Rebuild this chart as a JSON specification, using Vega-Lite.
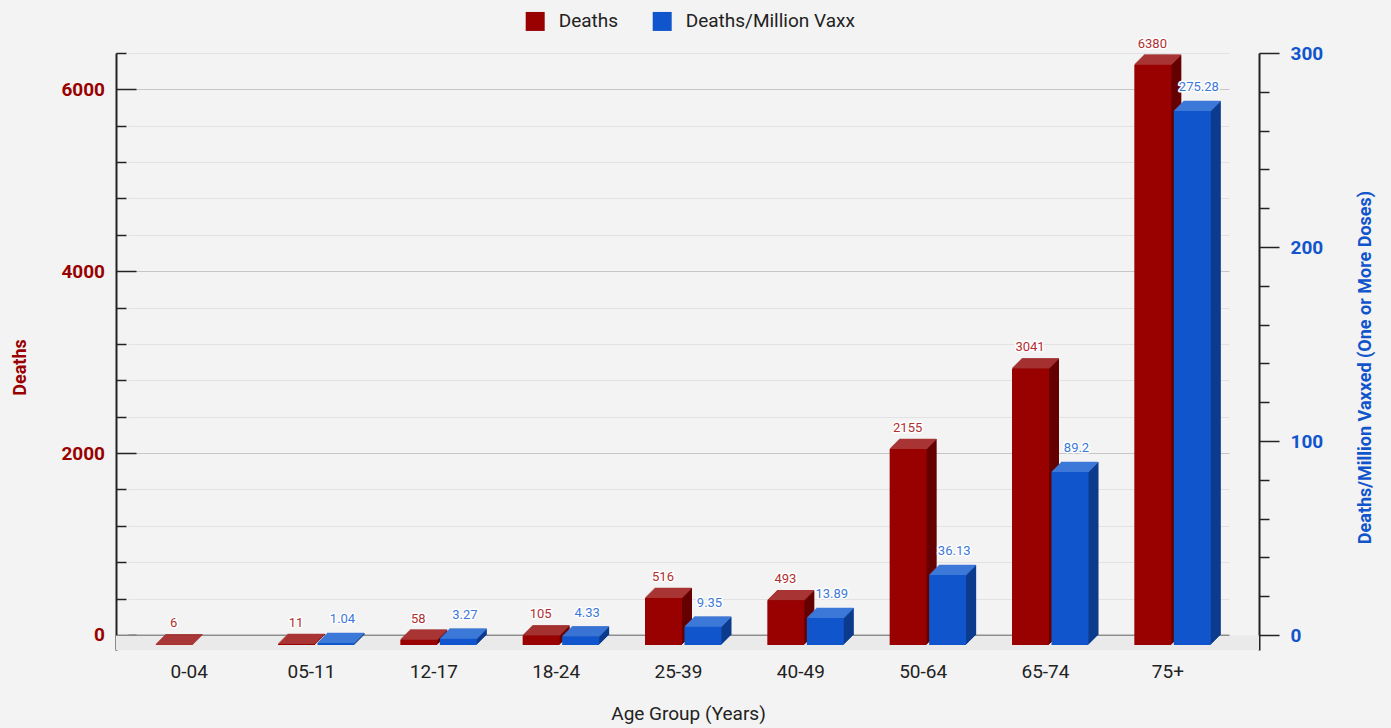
{
"$schema":"https://vega.github.io/schema/vega-lite/v6.json",
"width":1143,"height":597,
"autosize":{"type":"none"},
"padding":{"left":116,"top":53,"right":132,"bottom":78},
"background":"#f3f3f3",
"config":{"view":{"stroke":null},"font":"Roboto"},
"data":{"values":[
{"age":"0-04","deaths":6,"rate":null},
{"age":"05-11","deaths":11,"rate":1.04},
{"age":"12-17","deaths":58,"rate":3.27},
{"age":"18-24","deaths":105,"rate":4.33},
{"age":"25-39","deaths":516,"rate":9.35},
{"age":"40-49","deaths":493,"rate":13.89},
{"age":"50-64","deaths":2155,"rate":36.13},
{"age":"65-74","deaths":3041,"rate":89.2},
{"age":"75+","deaths":6380,"rate":275.28}
]},
"resolve":{"scale":{"y":"independent"}},
"layer":[
{"data":{"values":[{}]},"mark":{"type":"rect","fill":"#eaeaea"},"encoding":{"y":{"datum":-6,"type":"quantitative","scale":{"domain":[-165,6400],"nice":false,"zero":false},"axis":null},"y2":{"datum":-165}}},
{
"encoding":{
"x":{"field":"age","type":"nominal","sort":null,"scale":{"range":[12,1113],"paddingInner":0,"paddingOuter":0},"axis":{"title":"Age Group (Years)","labelAngle":0,"ticks":false,"domain":false,"grid":false,"labelFontSize":19,"labelColor":"#222222","labelPadding":27,"labelBaseline":"alphabetic","titleFontSize":19,"titleFontWeight":"normal","titleColor":"#222222","titleX":572,"titleY":69.5,"titleAlign":"center","titleBaseline":"alphabetic"}},
"y":{"field":"deaths","type":"quantitative","scale":{"domain":[-165,6400],"nice":false,"zero":false},"axis":{"title":"Deaths","values":[0,400,800,1200,1600,2000,2400,2800,3200,3600,4000,4400,4800,5200,5600,6000,6400],"labelExpr":"datum.value % 2000 === 0 ? '' + datum.value : ''","labelOverlap":false,"labelFontSize":19,"labelFontWeight":"bold","labelColor":"#990000","labelPadding":31.5,"labelBaseline":"middle","tickSize":{"condition":{"test":"datum.value % 2000 === 0","value":-20},"value":-10},"tickColor":"#222222","tickWidth":1.5,"domainColor":"#222222","domainWidth":2,"grid":true,"gridColor":{"condition":[{"test":"datum.value === 0","value":"#333333"},{"test":"datum.value % 2000 === 0","value":"#c6c6c6"}],"value":"#e2e2e2"},"gridWidth":{"condition":{"test":"datum.value === 0","value":1.5},"value":1},"titleFontSize":18,"titleFontWeight":"bold","titleColor":"#990000","titleAngle":-90,"titleX":-91,"titleY":314,"titleAlign":"center","titleBaseline":"alphabetic"}}
},
"layer":[
{"mark":{"type":"bar","width":37,"fill":"#650000","xOffset":-14,"yOffset":9,"y2Offset":9},"encoding":{"y2":{"datum":0}}},
{"mark":{"type":"bar","width":37,"fill":"#650000","xOffset":-13,"yOffset":8,"y2Offset":8},"encoding":{"y2":{"datum":0}}},
{"mark":{"type":"bar","width":37,"fill":"#650000","xOffset":-12,"yOffset":7,"y2Offset":7},"encoding":{"y2":{"datum":0}}},
{"mark":{"type":"bar","width":37,"fill":"#650000","xOffset":-11,"yOffset":6,"y2Offset":6},"encoding":{"y2":{"datum":0}}},
{"mark":{"type":"bar","width":37,"fill":"#650000","xOffset":-10,"yOffset":5,"y2Offset":5},"encoding":{"y2":{"datum":0}}},
{"mark":{"type":"bar","width":37,"fill":"#650000","xOffset":-9,"yOffset":4,"y2Offset":4},"encoding":{"y2":{"datum":0}}},
{"mark":{"type":"bar","width":37,"fill":"#650000","xOffset":-8,"yOffset":3,"y2Offset":3},"encoding":{"y2":{"datum":0}}},
{"mark":{"type":"bar","width":37,"fill":"#650000","xOffset":-7,"yOffset":2,"y2Offset":2},"encoding":{"y2":{"datum":0}}},
{"mark":{"type":"bar","width":37,"fill":"#650000","xOffset":-6,"yOffset":1,"y2Offset":1},"encoding":{"y2":{"datum":0}}},
{"mark":{"type":"bar","width":37,"fill":"#650000","xOffset":-5,"yOffset":0,"y2Offset":0},"encoding":{"y2":{"datum":0}}},
{"mark":{"type":"tick","size":37,"thickness":1.5,"fill":"#a83434","opacity":1,"xOffset":-14.5,"yOffset":9.5}},
{"mark":{"type":"tick","size":37,"thickness":1.5,"fill":"#a83434","opacity":1,"xOffset":-13.5,"yOffset":8.5}},
{"mark":{"type":"tick","size":37,"thickness":1.5,"fill":"#a83434","opacity":1,"xOffset":-12.5,"yOffset":7.5}},
{"mark":{"type":"tick","size":37,"thickness":1.5,"fill":"#a83434","opacity":1,"xOffset":-11.5,"yOffset":6.5}},
{"mark":{"type":"tick","size":37,"thickness":1.5,"fill":"#a83434","opacity":1,"xOffset":-10.5,"yOffset":5.5}},
{"mark":{"type":"tick","size":37,"thickness":1.5,"fill":"#a83434","opacity":1,"xOffset":-9.5,"yOffset":4.5}},
{"mark":{"type":"tick","size":37,"thickness":1.5,"fill":"#a83434","opacity":1,"xOffset":-8.5,"yOffset":3.5}},
{"mark":{"type":"tick","size":37,"thickness":1.5,"fill":"#a83434","opacity":1,"xOffset":-7.5,"yOffset":2.5}},
{"mark":{"type":"tick","size":37,"thickness":1.5,"fill":"#a83434","opacity":1,"xOffset":-6.5,"yOffset":1.5}},
{"mark":{"type":"tick","size":37,"thickness":1.5,"fill":"#a83434","opacity":1,"xOffset":-5.5,"yOffset":0.5}},
{"mark":{"type":"bar","width":37,"xOffset":-15,"yOffset":10,"y2Offset":10},"encoding":{"y2":{"datum":0},"color":{"datum":"Deaths","type":"nominal","scale":{"domain":["Deaths","Deaths/Million Vaxx"],"range":["#990000","#1155cc"]},"legend":{"orient":"none","legendX":409.7,"legendY":-41.3,"direction":"horizontal","title":null,"symbolType":"square","symbolSize":361,"symbolStrokeWidth":0,"labelFontSize":19,"labelColor":"#222222","labelOffset":14,"labelLimit":400,"columnPadding":34,"padding":0}}}},
{"mark":{"type":"text","fontSize":13,"xOffset":-15.5,"yOffset":-11,"baseline":"middle","fill":"#ffffff","stroke":"#ffffff","strokeWidth":3,"strokeJoin":"round"},"encoding":{"text":{"field":"deaths","type":"nominal"}}},
{"mark":{"type":"text","fontSize":13,"xOffset":-15.5,"yOffset":-11,"baseline":"middle","fill":"#b03030"},"encoding":{"text":{"field":"deaths","type":"nominal"}}}
]
},
{
"encoding":{
"x":{"field":"age","type":"nominal","sort":null,"scale":{"range":[12,1113],"paddingInner":0,"paddingOuter":0}},
"y":{"field":"rate","type":"quantitative","scale":{"domain":[-7.73,300],"nice":false,"zero":false},"axis":{"orient":"right","title":"Deaths/Million Vaxxed (One or More Doses)","values":[0,20,40,60,80,100,120,140,160,180,200,220,240,260,280,300],"labelExpr":"datum.value % 100 === 0 ? '' + datum.value : ''","labelOverlap":false,"labelFontSize":19,"labelFontWeight":"bold","labelColor":"#1155cc","labelPadding":11,"labelBaseline":"middle","tickSize":{"condition":{"test":"datum.value % 100 === 0","value":20},"value":10},"tickColor":"#222222","tickWidth":1.5,"domainColor":"#222222","domainWidth":2,"grid":false,"titleFontSize":18,"titleFontWeight":"bold","titleColor":"#1155cc","titleAngle":-90,"titleX":111,"titleY":314,"titleAlign":"center","titleBaseline":"alphabetic"}}
},
"layer":[
{"mark":{"type":"bar","width":37,"fill":"#0c3a8c","xOffset":25.5,"yOffset":9,"y2Offset":9},"encoding":{"y2":{"datum":0}}},
{"mark":{"type":"bar","width":37,"fill":"#0c3a8c","xOffset":26.5,"yOffset":8,"y2Offset":8},"encoding":{"y2":{"datum":0}}},
{"mark":{"type":"bar","width":37,"fill":"#0c3a8c","xOffset":27.5,"yOffset":7,"y2Offset":7},"encoding":{"y2":{"datum":0}}},
{"mark":{"type":"bar","width":37,"fill":"#0c3a8c","xOffset":28.5,"yOffset":6,"y2Offset":6},"encoding":{"y2":{"datum":0}}},
{"mark":{"type":"bar","width":37,"fill":"#0c3a8c","xOffset":29.5,"yOffset":5,"y2Offset":5},"encoding":{"y2":{"datum":0}}},
{"mark":{"type":"bar","width":37,"fill":"#0c3a8c","xOffset":30.5,"yOffset":4,"y2Offset":4},"encoding":{"y2":{"datum":0}}},
{"mark":{"type":"bar","width":37,"fill":"#0c3a8c","xOffset":31.5,"yOffset":3,"y2Offset":3},"encoding":{"y2":{"datum":0}}},
{"mark":{"type":"bar","width":37,"fill":"#0c3a8c","xOffset":32.5,"yOffset":2,"y2Offset":2},"encoding":{"y2":{"datum":0}}},
{"mark":{"type":"bar","width":37,"fill":"#0c3a8c","xOffset":33.5,"yOffset":1,"y2Offset":1},"encoding":{"y2":{"datum":0}}},
{"mark":{"type":"bar","width":37,"fill":"#0c3a8c","xOffset":34.5,"yOffset":0,"y2Offset":0},"encoding":{"y2":{"datum":0}}},
{"mark":{"type":"tick","size":37,"thickness":1.5,"fill":"#3c78d8","opacity":1,"xOffset":25,"yOffset":9.5}},
{"mark":{"type":"tick","size":37,"thickness":1.5,"fill":"#3c78d8","opacity":1,"xOffset":26,"yOffset":8.5}},
{"mark":{"type":"tick","size":37,"thickness":1.5,"fill":"#3c78d8","opacity":1,"xOffset":27,"yOffset":7.5}},
{"mark":{"type":"tick","size":37,"thickness":1.5,"fill":"#3c78d8","opacity":1,"xOffset":28,"yOffset":6.5}},
{"mark":{"type":"tick","size":37,"thickness":1.5,"fill":"#3c78d8","opacity":1,"xOffset":29,"yOffset":5.5}},
{"mark":{"type":"tick","size":37,"thickness":1.5,"fill":"#3c78d8","opacity":1,"xOffset":30,"yOffset":4.5}},
{"mark":{"type":"tick","size":37,"thickness":1.5,"fill":"#3c78d8","opacity":1,"xOffset":31,"yOffset":3.5}},
{"mark":{"type":"tick","size":37,"thickness":1.5,"fill":"#3c78d8","opacity":1,"xOffset":32,"yOffset":2.5}},
{"mark":{"type":"tick","size":37,"thickness":1.5,"fill":"#3c78d8","opacity":1,"xOffset":33,"yOffset":1.5}},
{"mark":{"type":"tick","size":37,"thickness":1.5,"fill":"#3c78d8","opacity":1,"xOffset":34,"yOffset":0.5}},
{"mark":{"type":"bar","width":37,"xOffset":24.5,"yOffset":10,"y2Offset":10},"encoding":{"y2":{"datum":0},"color":{"datum":"Deaths/Million Vaxx","type":"nominal"}}},
{"mark":{"type":"text","fontSize":13,"xOffset":31,"yOffset":-14,"baseline":"middle","fill":"#ffffff","stroke":"#ffffff","strokeWidth":3,"strokeJoin":"round"},"encoding":{"text":{"field":"rate","type":"nominal"}}},
{"mark":{"type":"text","fontSize":13,"xOffset":31,"yOffset":-14,"baseline":"middle","fill":"#3b78d8"},"encoding":{"text":{"field":"rate","type":"nominal"}}}
]
}
]
}
